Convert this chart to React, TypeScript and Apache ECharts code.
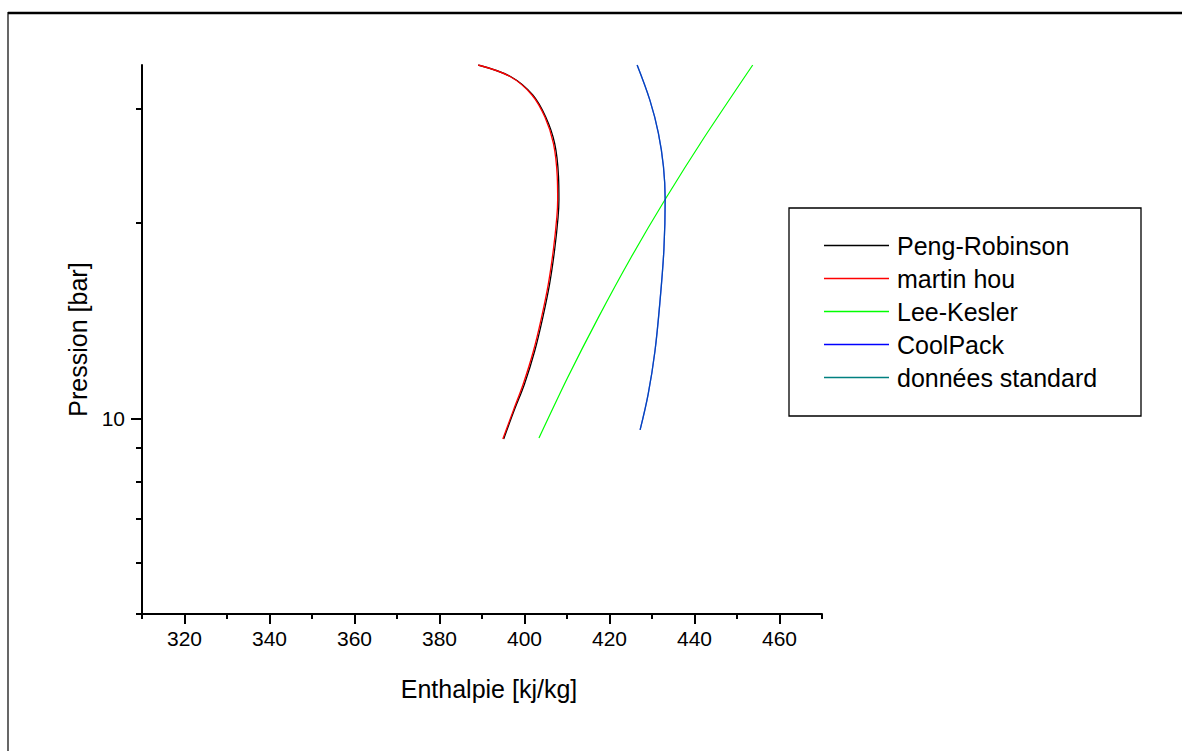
import React, { useEffect, useRef } from "react";
import * as echarts from "echarts";

// Axis ticks / labels
const enthalpyMajorTicks = [320, 340, 360, 380, 400, 420, 440, 460];
const enthalpyMinorTicks = [310, 330, 350, 370, 390, 410, 430, 450, 470];
const pressureMajorTicks = [10];
const pressureMinorTicks = [5, 6, 7, 8, 9, 20, 30];

// Series (enthalpy kJ/kg, pressure bar)
const pengRobinsonH = [389.1, 396.7, 401.9, 405.0, 407.1, 408.0, 408.1, 407.9, 407.1, 405.9, 404.3, 402.4, 400.0, 397.6, 395.1];
const pengRobinsonP = [35.0, 33.6, 31.5, 29.1, 26.5, 23.6, 21.7, 20.4, 18.2, 16.1, 14.3, 12.7, 11.3, 10.3, 9.3];

const martinHouH = [389.1, 396.6, 401.7, 404.8, 406.8, 407.7, 407.8, 407.6, 406.8, 405.6, 404.0, 402.1, 399.7, 397.4, 394.9];
const martinHouP = [35.0, 33.6, 31.5, 29.1, 26.5, 23.6, 21.7, 20.4, 18.2, 16.1, 14.3, 12.7, 11.3, 10.3, 9.3];

const leeKeslerH = [403.4, 410.1, 417.3, 425.0, 433.3, 442.2, 453.7];
const leeKeslerP = [9.33, 11.54, 14.27, 17.66, 21.84, 27.02, 35.0];

const coolPackH = [426.5, 429.5, 431.5, 432.7, 433.1, 432.8, 431.9, 430.7, 429.1, 427.2];
const coolPackP = [35.0, 30.9, 27.5, 24.4, 21.7, 18.2, 15.2, 12.7, 10.9, 9.6];

const standardH = [426.5, 429.5, 431.5, 432.7, 433.1, 432.8, 431.9, 430.7, 429.1, 427.2];
const standardP = [35.0, 30.9, 27.5, 24.4, 21.7, 18.2, 15.2, 12.7, 10.9, 9.6];

const seriesNames = ["Peng-Robinson", "martin hou", "Lee-Kesler", "CoolPack", "données standard"];
const seriesColors = ["#000000", "#ff0000", "#00ff00", "#0000ff", "#008080"];

const FONT = "'Liberation Sans', Arial, Helvetica, sans-serif";

function zip(h: number[], p: number[]) {
  return h.map((v, i) => [v, p[i]]);
}

export default function App() {
  const ref = useRef<HTMLDivElement>(null);

  useEffect(() => {
    if (!ref.current) return;
    const chart = echarts.init(ref.current, null, { renderer: "svg" });
    const datasets = [
      zip(pengRobinsonH, pengRobinsonP),
      zip(martinHouH, martinHouP),
      zip(leeKeslerH, leeKeslerP),
      zip(coolPackH, coolPackP),
      zip(standardH, standardP),
    ];
    const widths = [1.3, 1.3, 1.2, 1.3, 1.3];
    const opac = [1, 1, 1, 1, 0.55];
    const smooth = [0.35, 0.35, 0.25, 0.35, 0.35];

    const axisLabelStyle = { color: "#000", fontFamily: FONT, fontSize: 21 };

    chart.setOption({
      animation: false,
      backgroundColor: "#fff",
      grid: { left: 142, top: 65, right: 360, bottom: 137, containLabel: false },
      graphic: [
        { type: "line", shape: { x1: 8, y1: 13, x2: 1182, y2: 13 }, style: { stroke: "#000", lineWidth: 2.5 } },
        { type: "line", shape: { x1: 8, y1: 12, x2: 8, y2: 751 }, style: { stroke: "#000", lineWidth: 1.2 } },
        { type: "rect", shape: { x: 789, y: 208, width: 352, height: 208 }, style: { fill: "none", stroke: "#000", lineWidth: 1.3 } },
      ],
      legend: {
        data: seriesNames,
        orient: "vertical",
        left: 824,
        top: 233,
        padding: 0,
        itemGap: 8,
        itemWidth: 65,
        itemHeight: 1.5,
        icon: "rect",
        textStyle: { color: "#000", fontFamily: FONT, fontSize: 25, padding: [0, 0, 0, 3] },
      },
      xAxis: [
        {
          type: "value",
          min: 310,
          max: 470,
          position: "bottom",
          name: "Enthalpie [kj/kg]",
          nameLocation: "middle",
          nameGap: 62,
          nameTextStyle: { color: "#000", fontFamily: FONT, fontSize: 25, padding: [0, 0, 0, 14] },
          axisLine: { show: true, onZero: false, lineStyle: { color: "#000", width: 2 } },
          axisTick: { show: true, customValues: enthalpyMajorTicks, length: 10, lineStyle: { color: "#000", width: 2 } },
          axisLabel: { customValues: enthalpyMajorTicks, margin: 14, ...axisLabelStyle },
          splitLine: { show: false },
        },
        {
          type: "value",
          min: 310,
          max: 470,
          position: "bottom",
          offset: 0,
          axisLine: { show: false, onZero: false },
          axisTick: { show: true, customValues: enthalpyMinorTicks, length: 5, lineStyle: { color: "#000", width: 2 } },
          axisLabel: { show: false },
          splitLine: { show: false },
        },
      ],
      yAxis: [
        {
          type: "log",
          logBase: 10,
          min: 5,
          max: 35,
          position: "left",
          name: "Pression [bar]",
          nameLocation: "middle",
          nameGap: 50,
          nameTextStyle: { color: "#000", fontFamily: FONT, fontSize: 25 },
          axisLine: { show: true, onZero: false, lineStyle: { color: "#000", width: 2 } },
          axisTick: { show: true, customValues: pressureMajorTicks, length: 11, lineStyle: { color: "#000", width: 2 } },
          axisLabel: { customValues: pressureMajorTicks, margin: 17, ...axisLabelStyle },
          splitLine: { show: false },
          minorTick: { show: false },
        },
        {
          type: "log",
          logBase: 10,
          min: 5,
          max: 35,
          position: "left",
          offset: 0,
          axisLine: { show: false, onZero: false },
          axisTick: { show: true, customValues: pressureMinorTicks, length: 6, lineStyle: { color: "#000", width: 2 } },
          axisLabel: { show: false },
          splitLine: { show: false },
        },
      ],
      series: seriesNames.map((name, i) => ({
        name,
        type: "line",
        xAxisIndex: 0,
        yAxisIndex: 0,
        data: datasets[i],
        smooth: smooth[i],
        showSymbol: false,
        symbol: "none",
        clip: true,
        itemStyle: { color: seriesColors[i] },
        lineStyle: { color: seriesColors[i], width: widths[i], opacity: opac[i] },
      })),
    });
    return () => chart.dispose();
  }, []);

  return (
    <div
      ref={ref}
      style={{ position: "fixed", left: 0, top: 0, width: 1182, height: 751, background: "#fff" }}
    />
  );
}
